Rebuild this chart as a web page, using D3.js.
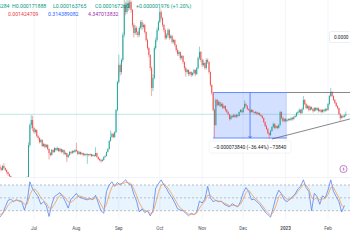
<!DOCTYPE html>
<html>
<head>
<meta charset="utf-8">
<script src="https://cdnjs.cloudflare.com/ajax/libs/d3/7.8.5/d3.min.js"></script>
<style>
    html, body { margin: 0; padding: 0; background: #fff; }
    svg { display: block; font-family: Roboto, "Liberation Sans", sans-serif; }
</style>
</head>
<body>
<div id="chart"></div>
<script>
// price values in units of 0.000001
const startDay = Date.UTC(2022, 5, 6);
const firstOpen = 84;

const closeJun = [80.2, 77, 83.5, 80.2, 77, 73.7, 70.5, 67.2, 60, 55, 50, 48, 45, 47, 50, 48, 52, 55, 54, 58, 64, 117.5, 150, 158, 145];
const highJun = [86, 82, 85, 88, 81, 78, 74, 71, 68, 62, 56, 52, 50, 50, 53, 52, 55, 58, 57, 61, 67, 122, 153, 166, 165];
const lowJun = [78, 75, 76, 78, 75, 71, 68, 58, 53, 49, 44, 42, 41, 43, 45, 45, 47, 50, 51, 53, 57, 62, 114, 144, 140];

const closeJul = [138.6, 141.8, 132, 128.9, 122.4, 125.6, 115.9, 119.1, 114.3, 117.5, 111, 104.5, 101.3, 109.4, 106.1, 112.6, 109.4, 112.6, 107.8, 111, 106.1, 109.4, 102.9, 104.5, 98, 101.3, 106.1, 104.5, 107.8, 106.1, 109.4];
const highJul = [147, 144, 143, 134, 130, 128, 127, 121, 120, 119, 119, 112, 106, 111, 111, 114, 113, 115, 113, 113, 112, 111, 110, 107, 105, 103, 108, 107, 109, 109, 111];
const lowJul = [136, 136, 130, 126, 120, 121, 114, 114, 112, 113, 109, 94, 99, 100, 104, 105, 107, 108, 106, 106, 104, 105, 101, 101, 90, 96, 100, 102, 103, 104, 105];

const closeAug = [107.8, 102.9, 106.1, 102.9, 104.5, 101.3, 102.9, 101.3, 102.9, 101.3, 102.9, 99.7, 101.3, 99.7, 104.5, 98, 94.8, 93.2, 91.6, 93.2, 98, 99.7, 106.1, 111, 124, 130.5, 135.4, 130.5, 138.6, 174.3, 219.7];
const highAug = [121, 109, 108, 107, 106, 105, 104, 104, 104, 103, 104, 103, 103, 102, 114, 105, 99, 96, 95, 95, 99, 101, 107, 112, 126, 141, 138, 137, 140, 176, 222];
const lowAug = [106, 101, 102, 101, 101, 99, 100, 99, 87, 99, 100, 98, 99, 98, 99, 97, 93, 91, 89, 90, 92, 97, 99, 105, 110, 123, 129, 128, 129, 137, 172];

const closeSep = [247.3, 235.9, 255.4, 295.9, 344.6, 333.2, 347.8, 339.7, 349.5, 336.5, 312.2, 299.2, 307.3, 300.8, 295.9, 307.3, 317, 308.9, 312.2, 300.8, 287.8, 274.8, 263.5, 242.4, 210, 226.2, 274.8, 287.8, 304, 317];
const highSep = [264, 250, 258, 300, 360, 350, 365, 352, 362, 352, 338, 315, 312, 310, 303, 310, 320, 320, 315, 314, 302, 290, 277, 265, 245, 232, 278, 292, 308, 320];
const lowSep = [217, 230, 232, 252, 292, 328, 330, 335, 337, 332, 308, 292, 296, 296, 292, 293, 305, 304, 306, 298, 285, 272, 260, 238, 197, 205, 224, 272, 285, 302];

const closeOct = [333.2, 323.5, 312.2, 304, 291.1, 295.9, 304, 291.1, 294.3, 284.6, 287.8, 279.7, 271.6, 265.1, 268.4, 258.6, 261.9, 252.1, 242.4, 235.9, 239.2, 232.7, 235.9, 231.1, 234.3, 239.2, 232.7, 242.4, 258.6, 268.4, 255.4];
const highOct = [341, 336, 325, 314, 306, 299, 307, 306, 297, 296, 290, 289, 281, 274, 271, 269, 264, 263, 253, 245, 241, 240, 237, 237, 236, 241, 240, 244, 261, 277, 270];
const lowOct = [315, 320, 309, 300, 288, 289, 293, 288, 289, 282, 282, 277, 268, 262, 262, 255, 256, 249, 238, 228, 233, 229, 230, 228, 229, 232, 229, 231, 240, 256, 252];

const closeNov = [247.3, 250.5, 242.4, 255.4, 252.1, 235.9, 214.8, 201.9, 174.3, 150, 190.5, 182.4, 187.3, 180.8, 184, 177.5, 180.8, 174.3, 171, 167.8, 159.7, 164.6, 163, 166.2, 163, 166.2, 164.6, 171, 174.3, 171];
const highNov = [258, 256, 252, 258, 258, 253, 237, 216, 203, 176, 193, 192, 190, 188, 186, 186, 181, 182, 176, 172, 168, 166, 166, 168, 167, 168, 167, 172, 176, 175];
const lowNov = [244, 245, 240, 240, 249, 233, 212, 199, 172, 129, 148, 180, 181, 179, 179, 176, 176, 172, 169, 165, 157, 158, 161, 162, 161, 162, 162, 164, 170, 169];

const closeDec = [177.5, 184, 180.8, 175.9, 174.3, 171, 174.3, 171, 169.4, 171, 167.8, 169.4, 166.2, 164.6, 161.3, 154.8, 148.3, 143.5, 137, 133.7, 140.2, 146.7, 151.6, 145.1, 148.3, 145.1, 150, 171, 161.3, 156.4, 159.7];
const highDec = [179, 190, 186, 182, 177, 175, 176, 175, 172, 173, 172, 171, 170, 167, 166, 162, 156, 150, 145, 138, 142, 148, 154, 153, 150, 149, 152, 173, 172, 163, 161];
const lowDec = [169, 176, 179, 174, 173, 169, 170, 170, 168, 168, 166, 166, 165, 163, 160, 153, 147, 142, 135, 127, 132, 139, 145, 143, 144, 143, 144, 148, 159, 154, 155];

const closeJan = [156.4, 158.1, 159.7, 158.1, 161.3, 159.7, 163, 164.6, 169.4, 171, 174.3, 169.4, 175.9, 190.5, 184, 177.5, 180.8, 174.3, 179.2, 175.9, 172.7, 177.5, 174.3, 177.5, 172.7, 174.3, 171, 174.3, 172.7, 175.9, 174.3];
const highJan = [161, 160, 161, 161, 163, 163, 165, 167, 171, 173, 177, 176, 178, 197, 192, 186, 183, 182, 181, 180, 177, 179, 179, 179, 178, 176, 176, 176, 176, 178, 177];
const lowJan = [154, 155, 156, 156, 157, 157, 158, 162, 163, 167, 169, 167, 168, 174, 182, 175, 176, 172, 173, 174, 170, 171, 172, 173, 170, 171, 169, 170, 170, 171, 172];

const closeFeb = [184, 197, 203.5, 197, 190.5, 185.6, 180.8, 177.5, 167.8, 161.3, 164.6, 163, 165.284, 167.26];
const highFeb = [186, 199, 210, 205, 198, 192, 187, 182, 178, 169, 166, 166, 167, 171.888];
const lowFeb = [173, 182, 195, 195, 189, 184, 179, 175, 166, 157, 160, 161, 162, 163.765];

// RSI (blue) and its moving average (orange), one value every 2 days from startDay
const rsiValues = [20, 25, 36, 46, 48, 44, 47, 45, 44, 31, 45, 75, 64, 58, 52, 40, 44, 38, 21, 40,
    52, 55, 58, 52, 44, 34, 48, 52, 57, 51, 50, 48, 47, 49, 47, 54, 42, 30, 26, 60,
    70, 75, 68, 74, 70, 74, 78, 72, 70, 56, 45, 28, 33, 27, 30, 22, 30, 65, 72, 78,
    70, 64, 56, 50, 42, 33, 31, 30, 26, 22, 26, 24, 28, 45, 42, 48, 68, 50, 44, 46,
    44, 45, 40, 38, 36, 41, 38, 36, 44, 58, 66, 60, 47, 48, 44, 40, 34, 28, 24, 20,
    35, 52, 62, 56, 47, 44, 48, 52, 56, 64, 68, 78, 66, 60, 30, 57, 52, 40, 53, 50,
    62, 78, 60, 52, 44, 28, 38];
const rsiMa = [24, 26, 31, 38, 43, 45, 46, 46, 45, 40, 40, 55, 63, 63, 58, 50, 46, 42, 34, 34,
    40, 48, 54, 54, 50, 44, 43, 46, 51, 53, 52, 50, 49, 48, 48, 50, 48, 40, 32, 40,
    55, 67, 70, 71, 72, 72, 74, 74, 72, 64, 54, 42, 35, 30, 29, 26, 27, 42, 58, 70,
    72, 68, 62, 55, 48, 40, 34, 31, 28, 25, 24, 24, 26, 34, 40, 45, 54, 54, 50, 46,
    45, 44, 42, 40, 38, 38, 38, 37, 40, 48, 58, 62, 56, 51, 47, 43, 38, 32, 27, 23,
    27, 38, 52, 56, 52, 48, 47, 50, 54, 60, 65, 71, 70, 64, 50, 48, 50, 47, 48, 49,
    55, 66, 66, 58, 50, 38, 36];
const rsiLevels = [70, 50, 30];

// indicator legend values (second header row)
const indicatorValues = ['0.001424709', '0.314389082', '4.347013832'];
const indicatorColors = ['#f23645', '#2962ff', '#9c27b0'];

// drawings
const measureStart = Date.UTC(2022, 10, 9), measureEnd = Date.UTC(2023, 0, 2);
const measureTop = 202.63, measureBottom = 128.79;
const resistance = [[Date.UTC(2023, 0, 2), 202.63], [Date.UTC(2023, 1, 20), 202.63]];
const support = [[Date.UTC(2022, 11, 22), 127.2], [Date.UTC(2023, 1, 17), 159.7]];

const WIDTH = 350, HEIGHT = 250;
const MAIN_BOTTOM = 177, RSI_BOTTOM = 219;
const UP = '#26a69a', DOWN = '#ef5350';

const closes = [].concat(closeJun, closeJul, closeAug, closeSep, closeOct, closeNov, closeDec, closeJan, closeFeb);
const highs = [].concat(highJun, highJul, highAug, highSep, highOct, highNov, highDec, highJan, highFeb);
const lows = [].concat(lowJun, lowJul, lowAug, lowSep, lowOct, lowNov, lowDec, lowJan, lowFeb);

const candles = closes.map((c, i) => ({
    date: d3.utcDay.offset(new Date(startDay), i),
    open: i ? closes[i - 1] : firstOpen,
    close: c,
    high: highs[i],
    low: lows[i]
}));

const xScale = d3.scaleUtc()
    .domain([new Date(Date.UTC(2022, 6, 1)), new Date(Date.UTC(2023, 1, 1))])
    .range([34, 328]);
const yScale = d3.scaleLinear().domain([65.6, 352.7]).range([MAIN_BOTTOM, 0]);
const rsiScale = d3.scaleLinear().domain([30, 70]).range([210.7, 185]);

const svg = d3.select('#chart')
    .append('svg')
    .attr('width', WIDTH)
    .attr('height', HEIGHT)
    .attr('viewBox', `0 0 ${WIDTH} ${HEIGHT}`);

const defs = svg.append('defs');
defs.append('clipPath').attr('id', 'clipMain')
    .append('rect').attr('x', 0).attr('y', 0).attr('width', WIDTH).attr('height', MAIN_BOTTOM);
defs.append('clipPath').attr('id', 'clipRsi')
    .append('rect').attr('x', 0).attr('y', MAIN_BOTTOM).attr('width', WIDTH).attr('height', RSI_BOTTOM - MAIN_BOTTOM);

// month grid
const monthTicks = d3.utcMonth.range(xScale.invert(0), xScale.invert(WIDTH));
svg.append('g')
    .selectAll('line')
    .data(monthTicks)
    .enter()
    .append('line')
    .attr('x1', d => xScale(d)).attr('x2', d => xScale(d))
    .attr('y1', 0).attr('y2', RSI_BOTTOM)
    .attr('stroke', '#f0f3fa')
    .attr('stroke-width', 0.8);

// pane separator
svg.append('line')
    .attr('x1', 0).attr('x2', WIDTH)
    .attr('y1', MAIN_BOTTOM + 0.5).attr('y2', MAIN_BOTTOM + 0.5)
    .attr('stroke', '#eef0f4')
    .attr('stroke-width', 0.8);

const main = svg.append('g').attr('clip-path', 'url(#clipMain)');

// price range drawing
const mx0 = xScale(new Date(measureStart)), mx1 = xScale(new Date(measureEnd));
const my0 = yScale(measureTop), my1 = yScale(measureBottom);
main.append('rect')
    .attr('x', mx0).attr('y', my0)
    .attr('width', mx1 - mx0).attr('height', my1 - my0)
    .attr('fill', 'rgba(41,98,255,0.2)');
[my0, my1].forEach(y => {
    main.append('line')
        .attr('x1', mx0).attr('x2', mx1).attr('y1', y).attr('y2', y)
        .attr('stroke', '#2962ff').attr('stroke-width', 0.7);
});
const mxc = (mx0 + mx1) / 2;
main.append('line')
    .attr('x1', mxc).attr('x2', mxc).attr('y1', my0).attr('y2', my1)
    .attr('stroke', '#2962ff').attr('stroke-width', 0.7);
main.append('path')
    .attr('d', `M${mxc - 1.5},${my1 - 2}L${mxc},${my1}L${mxc + 1.5},${my1 - 2}`)
    .attr('fill', 'none').attr('stroke', '#2962ff').attr('stroke-width', 0.7);

// last price line
const last = candles[candles.length - 1];
main.append('line')
    .attr('x1', 0).attr('x2', WIDTH)
    .attr('y1', yScale(last.close)).attr('y2', yScale(last.close))
    .attr('stroke', UP).attr('stroke-opacity', 0.35).attr('stroke-width', 0.8);

// candles
const candleG = main.append('g');
candleG.selectAll('line')
    .data(candles)
    .enter()
    .append('line')
    .attr('x1', d => xScale(d.date)).attr('x2', d => xScale(d.date))
    .attr('y1', d => yScale(Math.max(d.high, d.open, d.close)))
    .attr('y2', d => yScale(Math.min(d.low, d.open, d.close)))
    .attr('stroke', d => d.close >= d.open ? UP : DOWN)
    .attr('stroke-width', 0.5);
candleG.selectAll('rect')
    .data(candles)
    .enter()
    .append('rect')
    .attr('x', d => xScale(d.date) - 0.5)
    .attr('width', 1)
    .attr('y', d => yScale(Math.max(d.open, d.close)))
    .attr('height', d => Math.max(0.6, Math.abs(yScale(d.open) - yScale(d.close))))
    .attr('fill', d => d.close >= d.open ? UP : DOWN);

// triangle lines
[resistance, support].forEach(pts => {
    main.append('line')
        .attr('x1', xScale(new Date(pts[0][0]))).attr('y1', yScale(pts[0][1]))
        .attr('x2', xScale(new Date(pts[1][0]))).attr('y2', yScale(pts[1][1]))
        .attr('stroke', '#50535e').attr('stroke-width', 0.7);
});

// measure label
const diff = measureBottom - measureTop;
const measureText = `\u2212${(Math.abs(diff) / 1e6).toFixed(9)} (\u2212${(Math.abs(diff) / measureTop * 100).toFixed(2)}%) \u2212${Math.round(Math.abs(diff) * 1000)}`;
const labelG = svg.append('g');
labelG.append('rect')
    .attr('x', mxc - 41).attr('y', my1 + 3)
    .attr('width', 82).attr('height', 12)
    .attr('rx', 1.5)
    .attr('fill', '#fff')
    .attr('stroke', '#eceef2').attr('stroke-width', 0.6);
labelG.append('text')
    .attr('x', mxc).attr('y', my1 + 10.7)
    .attr('text-anchor', 'middle')
    .attr('font-size', 4.9)
    .attr('fill', '#131722')
    .text(measureText);

// RSI pane
const rsiG = svg.append('g').attr('clip-path', 'url(#clipRsi)');
rsiG.append('rect')
    .attr('x', 0).attr('width', WIDTH)
    .attr('y', rsiScale(70)).attr('height', rsiScale(30) - rsiScale(70))
    .attr('fill', 'rgba(33,150,243,0.1)');
rsiG.selectAll('.lvl')
    .data(rsiLevels)
    .enter()
    .append('line')
    .attr('class', 'lvl')
    .attr('x1', 0).attr('x2', WIDTH)
    .attr('y1', d => rsiScale(d)).attr('y2', d => rsiScale(d))
    .attr('stroke', '#9598a1').attr('stroke-width', 0.6)
    .attr('stroke-dasharray', '2,2');

const rsiDate = i => d3.utcDay.offset(new Date(startDay), i * 2);
const rsiLine = d3.line().x((d, i) => xScale(rsiDate(i))).y(d => rsiScale(d));
rsiG.append('path')
    .attr('d', rsiLine(rsiValues))
    .attr('fill', 'none').attr('stroke', '#5b84f0').attr('stroke-width', 0.8);
rsiG.append('path')
    .attr('d', rsiLine(rsiMa))
    .attr('fill', 'none').attr('stroke', '#f59d55').attr('stroke-width', 0.8);

// time axis labels
svg.append('g')
    .selectAll('text')
    .data(monthTicks)
    .enter()
    .append('text')
    .attr('x', d => xScale(d))
    .attr('y', 229.8)
    .attr('text-anchor', 'middle')
    .attr('font-size', 4.6)
    .attr('font-weight', d => d.getUTCMonth() === 0 ? 'bold' : 'normal')
    .attr('fill', '#50535e')
    .text(d => d.getUTCMonth() === 0 ? d.getUTCFullYear() : d3.utcFormat('%b')(d));

// header legend
const fmt = v => (v / 1e6).toFixed(9);
const change = last.close - last.open;
const header = svg.append('g').attr('font-size', 5.2).attr('fill', '#089981');
header.append('text').attr('x', 9.5).attr('y', 7.8).attr('text-anchor', 'end').text('O' + fmt(last.open));
header.append('text').attr('x', 12).attr('y', 7.8).text('H' + fmt(last.high));
header.append('text').attr('x', 53).attr('y', 7.8).text('L' + fmt(last.low));
header.append('text').attr('x', 95).attr('y', 7.8).text('C' + fmt(last.close));
header.append('text').attr('x', 136).attr('y', 7.8)
    .text(`+${fmt(change)} (+${(change / last.open * 100).toFixed(2)}%)`);

indicatorValues.forEach((v, i) => {
    svg.append('text')
        .attr('x', 8 + i * 40).attr('y', 15.8)
        .attr('font-size', 5.2)
        .attr('fill', indicatorColors[i])
        .text(v);
});

// floating price label on the right
const priceTag = svg.append('g');
priceTag.append('rect')
    .attr('x', 329.5).attr('y', 31.5).attr('width', 24).attr('height', 11)
    .attr('rx', 1.5)
    .attr('fill', '#fff').attr('stroke', '#e0e3eb').attr('stroke-width', 0.6);
priceTag.append('text')
    .attr('x', 334).attr('y', 38.8)
    .attr('font-size', 4.7).attr('fill', '#131722')
    .text('0.0000');

// alert icon
const icon = svg.append('g');
icon.append('circle')
    .attr('cx', 343.5).attr('cy', 169).attr('r', 3.6)
    .attr('fill', '#fff').attr('stroke', '#ab47bc').attr('stroke-width', 0.7);
icon.append('path')
    .attr('d', 'M344.3,166.7L342.4,169.3L343.6,169.3L342.8,171.4L344.7,168.7L343.5,168.7Z')
    .attr('fill', '#ab47bc');
</script>
</body>
</html>
